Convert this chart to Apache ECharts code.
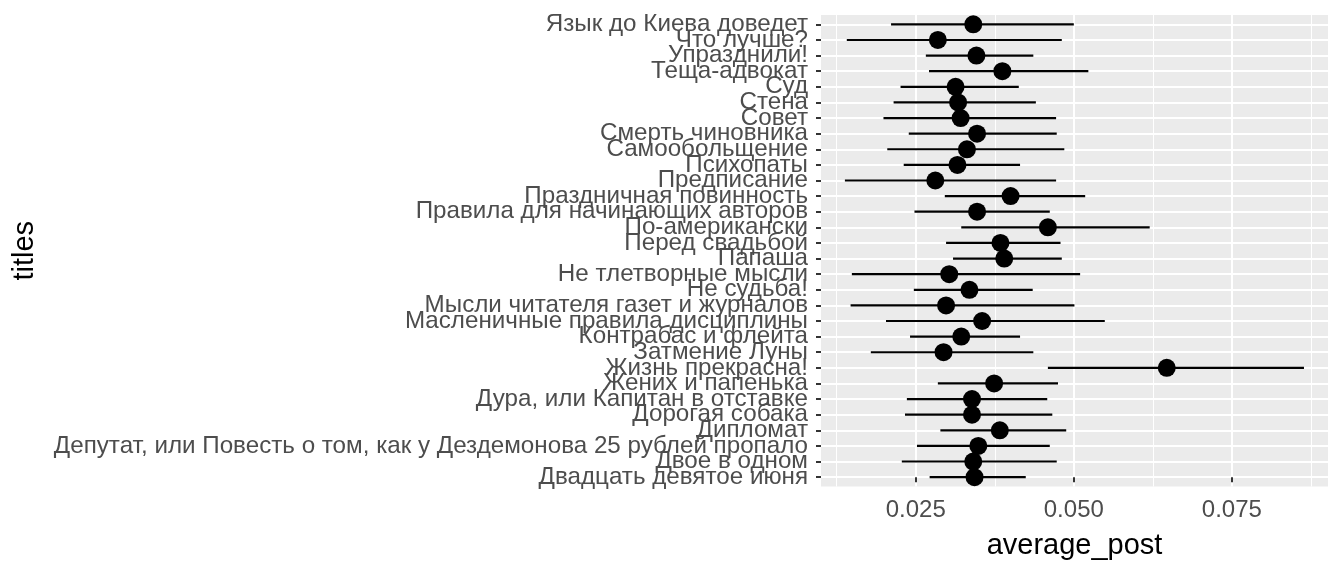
<!DOCTYPE html>
<html>
<head>
<meta charset="utf-8">
<script src="https://cdn.jsdelivr.net/npm/echarts@6/dist/echarts.min.js"></script>
<style>
  html, body { margin: 0; padding: 0; background: #fff; }
  #main { width: 1344px; height: 576px; }
</style>
</head>
<body>
<div id="main"></div>
<script>
// названия сверху вниз
var titles = [
    'Язык до Киева доведет', 'Что лучше?', 'Упразднили!', 'Теща-адвокат', 'Суд',
    'Стена', 'Совет', 'Смерть чиновника', 'Самообольщение', 'Психопаты',
    'Предписание', 'Праздничная повинность', 'Правила для начинающих авторов', 'По-американски', 'Перед свадьбой',
    'Папаша', 'Не тлетворные мысли', 'Не судьба!', 'Мысли читателя газет и журналов', 'Масленичные правила дисциплины',
    'Контрабас и флейта', 'Затмение Луны', 'Жизнь прекрасна!', 'Жених и папенька', 'Дура, или Капитан в отставке',
    'Дорогая собака', 'Дипломат', 'Депутат, или Повесть о том, как у Дездемонова 25 рублей пропало', 'Двое в одном', 'Двадцать девятое июня'
];

var averagePost = [
    0.0341, 0.0285, 0.0346, 0.0387, 0.0313,
    0.0317, 0.0321, 0.0347, 0.0331, 0.0316,
    0.0281, 0.0400, 0.0347, 0.0459, 0.0384,
    0.0390, 0.0303, 0.0335, 0.0298, 0.0355,
    0.0322, 0.0294, 0.0647, 0.0374, 0.0339,
    0.0339, 0.0383, 0.0349, 0.0341, 0.0343
];

var lower = [
    0.0211, 0.0141, 0.0266, 0.0271, 0.0226,
    0.0215, 0.0199, 0.0239, 0.0205, 0.0231,
    0.0138, 0.0296, 0.0248, 0.0322, 0.0298,
    0.0309, 0.0149, 0.0247, 0.0147, 0.0203,
    0.0241, 0.0179, 0.0459, 0.0285, 0.0236,
    0.0233, 0.0289, 0.0252, 0.0228, 0.0272
];

var upper = [
    0.0500, 0.0481, 0.0436, 0.0523, 0.0413,
    0.0440, 0.0472, 0.0473, 0.0485, 0.0415,
    0.0472, 0.0518, 0.0462, 0.0620, 0.0479,
    0.0481, 0.0510, 0.0435, 0.0501, 0.0549,
    0.0415, 0.0436, 0.0864, 0.0475, 0.0458,
    0.0466, 0.0488, 0.0462, 0.0473, 0.0424
];

var xTicks = [0.025, 0.050, 0.075];
var xMinor = [0.0125, 0.0375, 0.0625, 0.0875];

// позиции строк (0 - нижняя)
var n = titles.length;
var rowIdx = titles.map(function (t, i) { return n - 1 - i; });
// подписи делим на чётные и нечётные, чтобы echarts не прятал соседние
var rowEven = rowIdx.filter(function (r) { return r % 2 == 0; });
var rowOdd = rowIdx.filter(function (r) { return r % 2 == 1; });

var pointData = averagePost.map(function (v, i) { return [v, rowIdx[i]]; });
var rangeData = lower.map(function (v, i) { return [v, upper[i], rowIdx[i]]; });

var labelColor = '#4D4D4D';
var font = 'Liberation Sans';

function titleAxis(rows) {
    return {
        type: 'value',
        min: -0.6,
        max: n - 1 + 0.6,
        position: 'left',
        axisLine: { show: false },
        axisTick: { show: false, customValues: rows },
        splitLine: { show: false },
        axisLabel: {
            customValues: rows,
            showMinLabel: true, showMaxLabel: true,
            color: labelColor, fontSize: 24.2, fontFamily: font, margin: 13,
            formatter: function (v) { return titles[n - 1 - Math.round(v)]; }
        }
    };
}

var option = {
    animation: false,
    backgroundColor: '#fff',
    grid: {
        left: 821,
        right: 16,
        top: 15,
        bottom: 89.5,
        show: true,
        backgroundColor: '#EBEBEB',
        borderWidth: 0
    },
    xAxis: [
        {
            type: 'value',
            min: 0.01002,
            max: 0.0902,
            name: 'average_post',
            nameLocation: 'middle',
            nameGap: 45,
            nameTextStyle: { color: '#000', fontSize: 29, fontFamily: font },
            axisLine: { show: false },
            axisTick: { show: true, customValues: xTicks, length: 5, lineStyle: { color: '#333', width: 2 } },
            axisLabel: {
                customValues: xTicks,
                showMinLabel: true, showMaxLabel: true,
                color: labelColor, fontSize: 24, fontFamily: font, margin: 12,
                formatter: function (v) { return v.toFixed(3); }
            },
            splitLine: { show: true, lineStyle: { color: '#fff', width: 2 } }
        },
        {
            type: 'value',
            min: 0.01002,
            max: 0.0902,
            position: 'bottom',
            axisLine: { show: false },
            axisTick: { show: false, customValues: xMinor },
            axisLabel: { show: false, customValues: xMinor },
            splitLine: { show: true, lineStyle: { color: '#fff', width: 1 } }
        }
    ],
    yAxis: [
        {
            type: 'value',
            min: -0.6,
            max: n - 1 + 0.6,
            name: 'titles',
            nameLocation: 'middle',
            nameRotate: 90,
            nameGap: 782,
            nameTextStyle: { color: '#000', fontSize: 29, fontFamily: font },
            axisLine: { show: false },
            axisTick: { show: true, customValues: rowIdx, length: 5, lineStyle: { color: '#333', width: 2 } },
            axisLabel: { show: false, customValues: rowIdx },
            splitLine: { show: true, lineStyle: { color: '#fff', width: 2 } }
        },
        titleAxis(rowEven),
        titleAxis(rowOdd)
    ],
    series: [
        {
            type: 'custom',
            xAxisIndex: 0,
            yAxisIndex: 0,
            data: rangeData,
            renderItem: function (params, api) {
                var a = api.coord([api.value(0), api.value(2)]);
                var b = api.coord([api.value(1), api.value(2)]);
                return {
                    type: 'line',
                    shape: { x1: a[0], y1: a[1], x2: b[0], y2: b[1] },
                    style: { stroke: '#000', lineWidth: 2.2 }
                };
            },
            silent: true,
            z: 2
        },
        {
            type: 'scatter',
            xAxisIndex: 0,
            yAxisIndex: 0,
            data: pointData,
            symbol: 'circle',
            symbolSize: 18,
            itemStyle: { color: '#000', opacity: 1 },
            silent: true,
            z: 3
        }
    ]
};

var myChart = echarts.init(document.getElementById('main'));
myChart.setOption(option);
</script>
</body>
</html>
